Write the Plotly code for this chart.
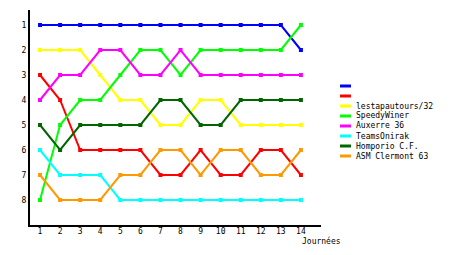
import plotly.graph_objects as go

journees = list(range(1, 15))
names = ["", "", "lestapautours/32", "SpeedyWiner", "Auxerre 36", "TeamsOnirak", "Homporio C.F.", "ASM Clermont 63"]
colors = ["#0000FF", "#FF0000", "#FFFF00", "#00FF00", "#FF00FF", "#00FFFF", "#006600", "#FF9900"]
blue = [1, 1, 1, 1, 1, 1, 1, 1, 1, 1, 1, 1, 1, 2]
red = [3, 4, 6, 6, 6, 6, 7, 7, 6, 7, 7, 6, 6, 7]
yellow = [2, 2, 2, 3, 4, 4, 5, 5, 4, 4, 5, 5, 5, 5]
green = [8, 5, 4, 4, 3, 2, 2, 3, 2, 2, 2, 2, 2, 1]
magenta = [4, 3, 3, 2, 2, 3, 3, 2, 3, 3, 3, 3, 3, 3]
cyan = [6, 7, 7, 7, 8, 8, 8, 8, 8, 8, 8, 8, 8, 8]
dkgreen = [5, 6, 5, 5, 5, 5, 4, 4, 5, 5, 4, 4, 4, 4]
orange = [7, 8, 8, 8, 7, 7, 6, 6, 7, 6, 6, 7, 7, 6]
series = [blue, red, yellow, green, magenta, cyan, dkgreen, orange]

FONT = "DejaVu Sans Mono"
fig = go.Figure()
for vals, col, nm in zip(series, colors, names):
    fig.add_trace(go.Scatter(x=journees, y=vals, mode="lines+markers", name=nm,
                             line=dict(color=col, width=2),
                             marker=dict(symbol="square", size=4, color=col),
                             showlegend=False))

# manual legend
for i, (col, nm) in enumerate(zip(colors, names)):
    y = 86 + 10 * i
    fig.add_shape(type="line", xref="paper", yref="paper",
                  x0=(340 - 30) / 291, x1=(351 - 30) / 291,
                  y0=(225 - y) / 215, y1=(225 - y) / 215,
                  line=dict(color=col, width=3))
    if nm:
        fig.add_annotation(x=(355 - 30) / 291, y=(225 - y) / 215, xref="paper", yref="paper",
                           text=nm, showarrow=False, xanchor="left", yanchor="middle",
                           borderpad=0,
                           font=dict(family=FONT, size=8, color="black"))

fig.add_annotation(x=(301 - 30) / 291, y=(225 - 241) / 215, xref="paper", yref="paper",
                   text="Journées", showarrow=False, xanchor="left", yanchor="middle",
                   borderpad=0,
                   font=dict(family=FONT, size=8, color="black"))

fig.update_layout(
    width=460, height=255,
    margin=dict(l=30, r=139, t=10, b=30),
    paper_bgcolor="white", plot_bgcolor="white",
    font=dict(family=FONT, size=8, color="black"),
)
fig.update_xaxes(range=[0.5, 15.0], tickmode="array", tickvals=journees,
                 showgrid=False, zeroline=False, showline=True, linecolor="black", linewidth=2,
                 ticks="", ticklen=0, ticklabelstandoff=-3, tickfont=dict(size=8, family=FONT))
fig.update_yaxes(range=[9, 0.4], tickmode="array", tickvals=list(range(1, 9)),
                 showgrid=False, zeroline=False, showline=True, linecolor="black", linewidth=2,
                 ticks="", ticklen=0, tickfont=dict(size=8, family=FONT))

fig.write_html("out.html")
